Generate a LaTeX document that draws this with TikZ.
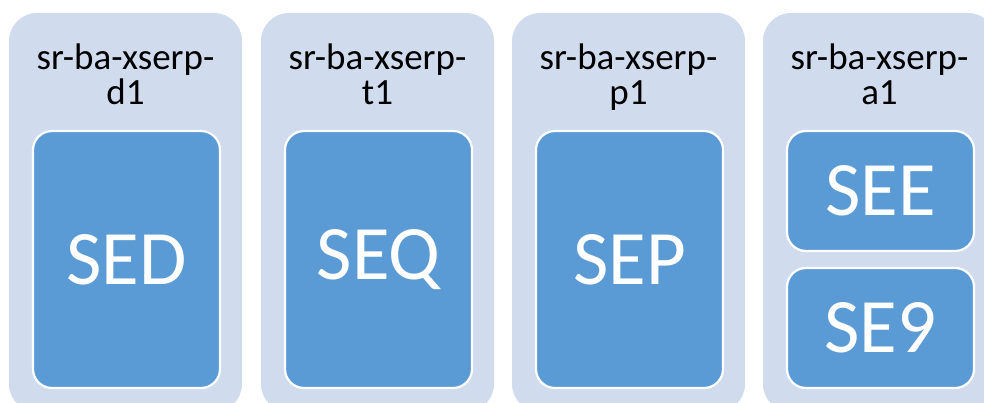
\documentclass[tikz,border=0pt]{standalone}
\usepackage{fontspec}
\setmainfont{Carlito}
\definecolor{outerfill}{HTML}{D0DCEE}
\definecolor{innerfill}{HTML}{5B9BD5}
\begin{document}
\begin{tikzpicture}[x=1pt,y=-1pt,
  outerbox/.style={fill=outerfill, draw=none, rounded corners=28pt},
  innerbox/.style={fill=innerfill, draw=white, line width=2.2pt, rounded corners=19pt},
  titletext/.style={font=\fontsize{37}{35.5}\selectfont, align=center, inner sep=0pt, anchor=base, text=black},
  bigtext/.style={font=\fontsize{77}{80}\selectfont, text=white, inner sep=0pt}]
\useasboundingbox (0,0) rectangle (984,403);
\begin{scope}
\clip (0,0) rectangle (984,403);
% outer boxes
\fill[outerbox] (9,13) rectangle (242,412);
\fill[outerbox] (261,13) rectangle (494,412);
\fill[outerbox] (512,13) rectangle (745,412);
\fill[outerbox] (763,13) rectangle (996,412);
\end{scope}
% titles
\node[titletext] (t1) at (125.5,105) {sr-ba-xserp-\\d1};
\node[titletext] (t2) at (377.5,105) {sr-ba-xserp-\\t1};
\node[titletext] (t3) at (628.5,105) {sr-ba-xserp-\\p1};
\node[titletext] (t4) at (879.5,105) {sr-ba-xserp-\\a1};
% inner boxes
\draw[innerbox] (33,131) rectangle (220,388);
\draw[innerbox] (285,131) rectangle (472,388);
\draw[innerbox] (536,131) rectangle (723,388);
\draw[innerbox] (787,131) rectangle (974,251);
\draw[innerbox] (787,268) rectangle (974,388);
% big labels
\node[bigtext] (sed) at (126.5,259.5) {SED};
\node[bigtext] (seq) at (378.5,259.5) {SEQ};
\node[bigtext] (sep) at (629.5,259.5) {SEP};
\node[bigtext] (see) at (880.5,191) {SEE};
\node[bigtext] (se9) at (880.5,328) {SE9};
\end{tikzpicture}
\end{document}
